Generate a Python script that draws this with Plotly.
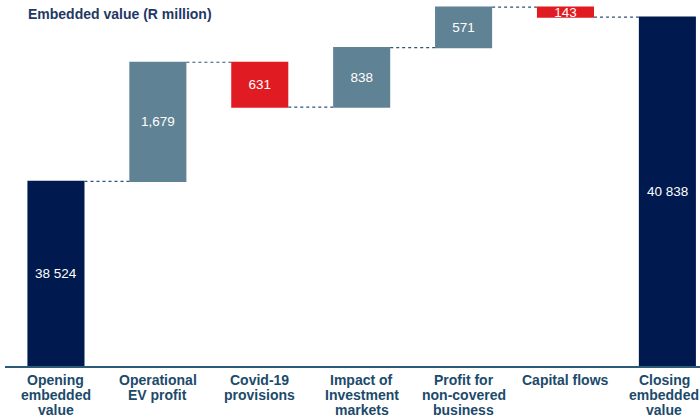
import plotly.graph_objects as go

categories = ["Opening<br>embedded<br>value", "Operational<br>EV profit", "Covid-19<br>provisions",
              "Impact of<br>Investment<br>markets", "Profit for<br>non-covered<br>business",
              "Capital flows", "Closing<br>embedded<br>value"]
values = [38524, 1679, -631, 838, 571, -143, 40838]
measures = ["absolute", "relative", "relative", "relative", "relative", "relative", "total"]
labels = ["38 524", "1,679", "631", "838", "571", "143", "40 838"]

FONT = "Liberation Sans, Arial, sans-serif"
NAVY = "#001a4f"
STEEL = "#5f8294"
RED = "#e11b22"
LABEL = "#1c4a6b"
Y_MIN, Y_MAX = 35925, 41080

is_total = [m != "relative" for m in measures]
bar_text = ["" if t else lab for t, lab in zip(is_total, labels)]

fig = go.Figure(go.Waterfall(
    x=list(range(len(categories))),
    y=values,
    measure=measures,
    text=bar_text,
    textposition="inside",
    insidetextanchor="middle",
    constraintext="none",
    textfont=dict(family=FONT, size=13.5, color="white"),
    increasing=dict(marker=dict(color=STEEL)),
    decreasing=dict(marker=dict(color=RED)),
    totals=dict(marker=dict(color=NAVY)),
    connector=dict(mode="between", line=dict(color="#2c5378", width=1.2, dash="dot")),
    width=0.56,
    hoverinfo="skip",
))

annotations = []
# labels for the total bars, centred on the visible part of the bar
for i, (t, v, lab) in enumerate(zip(is_total, values, labels)):
    if t:
        annotations.append(dict(
            x=i, y=(Y_MIN + v) / 2, xref="x", yref="y", text=lab, showarrow=False,
            font=dict(family=FONT, size=13.5, color="white"),
        ))
# category labels, one annotation per line for tight line spacing
last = len(categories) - 1
for i, cat in enumerate(categories):
    for k, line in enumerate(cat.split("<br>")):
        annotations.append(dict(
            x=i, y=0, xref="x", yref="paper", text="<b>" + line + "</b>", showarrow=False,
            yanchor="middle", yshift=-(14 + 15 * k), xshift=(-3 if i == last else 0),
            font=dict(family=FONT, size=14, color=LABEL),
        ))

plot_w = 700 - 5
plot_h = 418 - 52
annotations.append(dict(
    text="<b>Embedded value (R million)</b>", x=(26 - 5) / plot_w, y=1 - 14 / plot_h,
    xref="paper", yref="paper", xanchor="left", yanchor="middle", showarrow=False,
    font=dict(family=FONT, size=14, color="#1f3864"),
))

fig.update_layout(
    width=700, height=418,
    margin=dict(l=5, r=0, t=0, b=52),
    paper_bgcolor="white", plot_bgcolor="white",
    showlegend=False,
    xaxis=dict(
        range=[-0.5, 6.32], showticklabels=False,
        showline=True, linecolor="#2c5a78", linewidth=1.5,
        showgrid=False, zeroline=False, ticks="",
    ),
    yaxis=dict(range=[Y_MIN, Y_MAX], visible=False, showgrid=False, zeroline=False),
    annotations=annotations,
)

fig.write_html("out.html", config={"displayModeBar": False},
               post_script="document.body.style.margin='0';")
